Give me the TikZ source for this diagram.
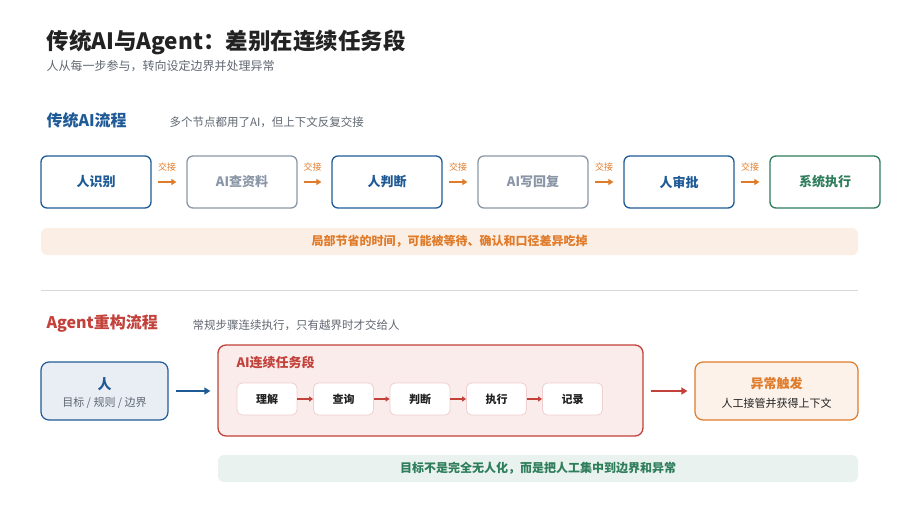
\documentclass[tikz,border=0pt]{standalone}
\usepackage{fontspec}
\setmainfont{Noto Sans CJK SC}
\newcommand\cjkb{\bfseries}
\usetikzlibrary{positioning,arrows.meta}
\definecolor{navy}{HTML}{1F5A96}
\definecolor{grayline}{HTML}{8A96A6}
\definecolor{rust}{HTML}{E07B2A}
\definecolor{brick}{HTML}{C2413A}
\definecolor{forest}{HTML}{2E7D5B}
\definecolor{ink}{HTML}{222222}
\definecolor{mute}{HTML}{5F6670}
\tikzset{
  stage/.style={draw, line width=1.3pt, rounded corners=6pt, minimum width=110pt, minimum height=52pt, font=\cjkb\fontsize{13}{15}\selectfont},
  human/.style={stage, draw=navy, text=navy},
  machine/.style={stage, draw=grayline, text=grayline},
  done/.style={stage, draw=forest, text=forest},
  hand/.style={-{Triangle[length=5pt,width=6pt]}, rust, line width=2pt},
  tag/.style={font=\fontsize{9}{10}\selectfont, text=rust},
  task/.style={draw=brick!25, fill=white, line width=0.8pt, rounded corners=5pt, minimum width=60pt, minimum height=32pt, font=\cjkb\fontsize{11}{13}\selectfont, text=ink},
  tstep/.style={-{Triangle[length=4pt,width=5pt]}, brick, line width=1.5pt},
  band/.style={rounded corners=6pt, font=\cjkb\fontsize{12}{14}\selectfont}
}
\begin{document}
\begin{tikzpicture}[x=1pt,y=-1pt]
  \useasboundingbox (0,0) rectangle (898,531);
  % heading
  \node[anchor=west, text=ink, font=\cjkb\fontsize{22.5}{26}\selectfont] (title) at (43,42) {传统AI与Agent：差别在连续任务段};
  \node[anchor=west, text=mute, font=\fontsize{12}{14}\selectfont] (sub) at (43,66) {人从每一步参与，转向设定边界并处理异常};
  % classic flow
  \node[anchor=west, text=navy, font=\cjkb\fontsize{16}{19}\selectfont] (oldhead) at (43,120) {传统AI流程};
  \node[anchor=west, text=mute, font=\fontsize{11.5}{14}\selectfont] (oldnote) at (166,122) {多个节点都用了AI，但上下文反复交接};
  \node[human]   (s1) at (96,182)  {人识别};
  \node[machine] (s2) at (242,182) {AI查资料};
  \node[human]   (s3) at (387,182) {人判断};
  \node[machine] (s4) at (533,182) {AI写回复};
  \node[human]   (s5) at (679,182) {人审批};
  \node[done]    (s6) at (825,182) {系统执行};
  \foreach \a/\b in {s1/s2,s2/s3,s3/s4,s4/s5,s5/s6}{
    \draw[hand] ([xshift=6pt]\a.east) -- ([xshift=-10pt]\b.west)
      node[tag, midway, above=6pt] {交接};
  }
  \node[band, fill=rust!12, text=rust, minimum width=817pt, minimum height=27pt] (loss) at (449.5,241.5) {局部节省的时间，可能被等待、确认和口径差异吃掉};
  \draw[black!15, line width=0.8pt] (41,290) -- (858,290);
  % agent flow
  \node[anchor=west, text=brick, font=\cjkb\fontsize{16}{19}\selectfont] (newhead) at (43,324) {Agent重构流程};
  \node[anchor=west, text=mute, font=\fontsize{11.5}{14}\selectfont] (newnote) at (189,325) {常规步骤连续执行，只有越界时才交给人};
  \node[draw=navy, fill=navy!10, line width=1.2pt, rounded corners=8pt, minimum width=127pt, minimum height=58pt] (boss) at (104.5,391) {};
  \node[text=navy, font=\cjkb\fontsize{14}{16}\selectfont] at (104.5,384) {人};
  \node[text=mute, font=\fontsize{11}{13}\selectfont] at (104.5,403) {目标 / 规则 / 边界};
  \node[draw=brick, fill=brick!10, line width=1.3pt, rounded corners=8pt, minimum width=425pt, minimum height=91pt] (seg) at (430.5,390.5) {};
  \node[anchor=west, text=brick, font=\cjkb\fontsize{13}{15}\selectfont] (seghead) at (233,363) {AI连续任务段};
  \node[task] (t1) at (267,399) {理解};
  \node[task] (t2) at (343.5,399) {查询};
  \node[task] (t3) at (420,399) {判断};
  \node[task] (t4) at (496.5,399) {执行};
  \node[task] (t5) at (572.5,399) {记录};
  \foreach \a/\b in {t1/t2,t2/t3,t3/t4,t4/t5}{
    \draw[tstep] (\a.east) -- (\b.west);
  }
  \node[draw=rust, fill=rust!10, line width=1.2pt, rounded corners=8pt, minimum width=163pt, minimum height=58pt] (alarm) at (776.5,391) {};
  \node[text=rust, font=\cjkb\fontsize{13}{15}\selectfont] at (776.5,384) {异常触发};
  \node[text=ink, font=\fontsize{11}{13}\selectfont] at (776.5,403) {人工接管并获得上下文};
  \draw[-{Triangle[length=6pt,width=7pt]}, navy, line width=2.5pt] ([xshift=7pt]boss.east) -- ([xshift=-7pt]seg.west |- boss.east);
  \draw[-{Triangle[length=6pt,width=7pt]}, brick, line width=2.5pt] ([xshift=7pt]seg.east |- alarm.west) -- ([xshift=-7pt]alarm.west);
  \node[band, fill=forest!10, text=forest, minimum width=640pt, minimum height=27pt] (goal) at (538,468.5) {目标不是完全无人化，而是把人工集中到边界和异常};
\end{tikzpicture}
\end{document}
